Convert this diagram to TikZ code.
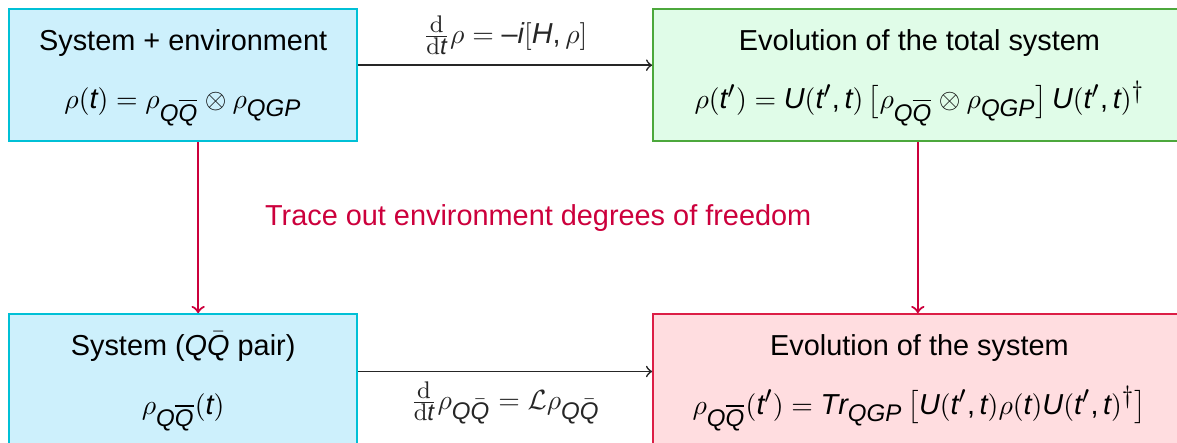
\documentclass[tikz,border=0pt]{standalone}
\usepackage{amsmath}
\usepackage{fontspec}
\setmainfont{Liberation Sans}
\usepackage[italic]{mathastext}
\usepackage{xcolor}
\usetikzlibrary{positioning,calc}

\definecolor{cyanline}{RGB}{0,192,214}
\definecolor{cyanfill}{RGB}{205,240,252}
\definecolor{greenline}{RGB}{76,168,60}
\definecolor{greenfill}{RGB}{224,252,232}
\definecolor{redline}{RGB}{220,30,70}
\definecolor{redfill}{RGB}{255,221,224}
\definecolor{tracered}{RGB}{204,0,60}

\newcommand{\ddiff}{\text{\fontfamily{lmr}\selectfont d}}

\begin{document}
\begin{tikzpicture}[
  font=\fontsize{10.4pt}{12.5pt}\selectfont,
  node distance=0pt,
  box/.style={draw, thick, minimum height=16.7mm, align=center},
  envbox/.style={box, draw=cyanline, fill=cyanfill, minimum width=44.07mm},
  totbox/.style={box, draw=greenline, fill=greenfill, minimum width=67.4mm},
  sysbox/.style={box, draw=redline, fill=redfill, minimum width=67.4mm},
  ar/.style={->, semithick, black!85},
  trc/.style={->, thick, tracered},
]
\useasboundingbox (-1.01mm,1.01mm) rectangle (148.0mm,-54.95mm);

% =============================================================== top row
\node[envbox, anchor=north west] (sysenv) at (0,0)
  {\rule{0pt}{9.5pt}System + environment\\[8.5pt]
   $\rho(t)=\rho_{Q\overline{Q}}\otimes\rho_{QGP}$};
\node[totbox, right=37.2mm of sysenv] (totevo)
  {\rule{0pt}{9.5pt}Evolution of the total system\\[8.5pt]
   $\rho(t')=U(t',t)\,\big[\rho_{Q\overline{Q}}\otimes\rho_{QGP}\big]\,U(t',t)^{\dagger}$};

\draw[ar] ([yshift=1.25mm]sysenv.east) --
  node[above] {$\frac{\ddiff}{\ddiff t}\rho=-i[H,\rho]$}
  ([yshift=1.25mm]totevo.west);

% =============================================================== bottom row
\node[envbox, below=21.65mm of sysenv] (sysqq)
  {\rule{0pt}{9.5pt}System ($Q\bar{Q}$ pair)\\[8.5pt]
   $\rho_{Q\overline{Q}}(t)$};
\node[sysbox, below=21.65mm of totevo] (sysevo)
  {\rule{0pt}{9.5pt}Evolution of the system\\[8.5pt]
   $\rho_{Q\overline{Q}}(t')=Tr_{QGP}\,\big[U(t',t)\rho(t)U(t',t)^{\dagger}\big]$};

\draw[ar] ([yshift=1.1mm]sysqq.east) --
  node[below] {$\frac{\ddiff}{\ddiff t}\rho_{Q\bar{Q}}=\mathcal{L}\rho_{Q\bar{Q}}$}
  ([yshift=1.1mm]sysevo.west);

% --- tracing out the environment ---
\draw[trc] ([xshift=1.9mm]sysenv.south) -- ([xshift=1.9mm]sysqq.north);
\draw[trc] ([xshift=-0.2mm]totevo.south) -- ([xshift=-0.2mm]sysevo.north);

\node[text=tracered] (trace) at ($(sysenv.south)+(44.95mm,-9.6mm)$)
  {Trace out environment degrees of freedom};

\end{tikzpicture}
\end{document}
